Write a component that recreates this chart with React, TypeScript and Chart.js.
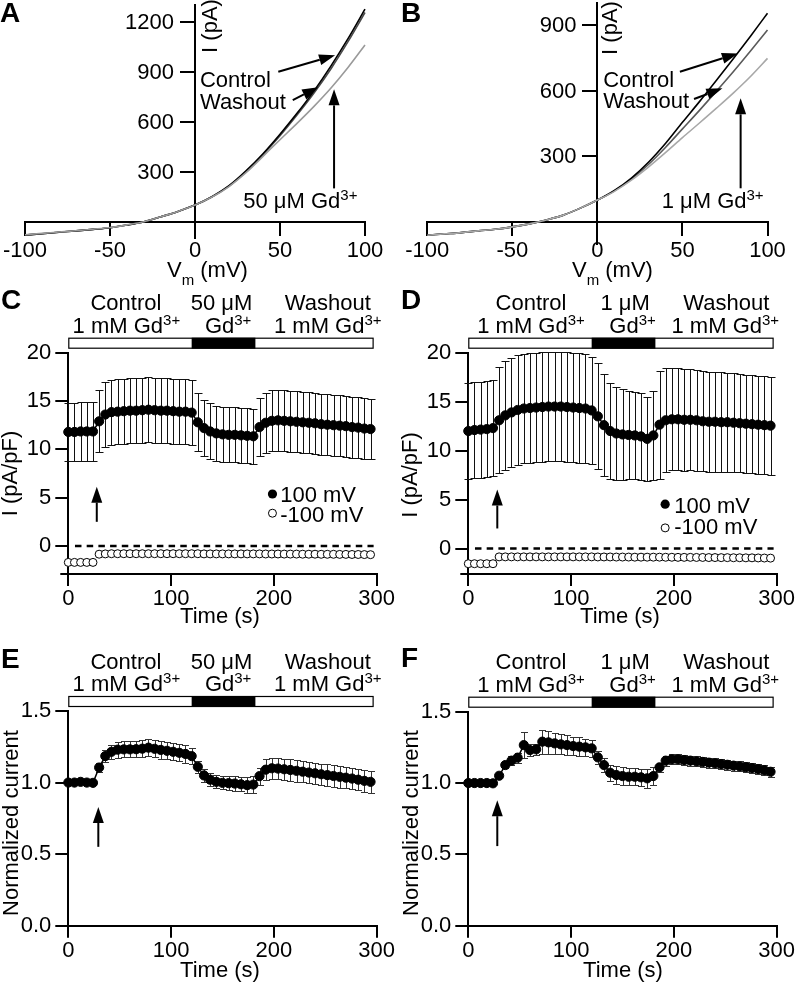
import React, { useEffect, useRef } from 'react';
import { Chart, registerables } from 'chart.js';

Chart.register(...registerables);

const FONT = '"Liberation Sans", Arial, Helvetica, sans-serif';
Chart.defaults.font.family = FONT;
Chart.defaults.color = '#000';

// ---------- Panels A / B : I-V relations ----------
const VM = [-100, -90, -80, -70, -60, -50, -40, -30, -20, -10, 0, 10, 20, 30, 40, 50, 60, 70, 80, 90, 100];
const A_CONTROL = [-80, -72, -63, -55, -46, -36, -20, 0, 30, 62, 100, 150, 216, 305, 408, 525, 650, 785, 935, 1098, 1275];
const A_WASHOUT = [-80, -72, -63, -55, -46, -36, -20, 0, 30, 62, 100, 150, 214, 301, 403, 516, 640, 772, 918, 1080, 1255];
const A_GD50 = [-78, -70, -62, -54, -45, -35, -19, 0, 30, 62, 100, 148, 211, 294, 392, 492, 590, 692, 802, 925, 1060];
const B_CONTROL = [-62, -56, -50, -42, -35, -24, -10, 8, 30, 62, 99, 143, 200, 272, 358, 455, 550, 648, 748, 850, 955];
const B_WASHOUT = [-62, -56, -50, -42, -35, -24, -10, 8, 30, 62, 99, 141, 195, 262, 340, 425, 510, 598, 688, 782, 878];
const B_GD1 = [-62, -56, -50, -42, -35, -24, -10, 8, 30, 62, 99, 139, 190, 250, 316, 385, 452, 520, 590, 665, 748];
const IV_X_TICKS = [-100, -50, 0, 50, 100];
const A_Y_TICKS = [300, 600, 900, 1200];
const B_Y_TICKS = [300, 600, 900];

// ---------- Panels C-F : time courses ----------
const T = [0, 6, 12, 18, 24, 30, 36, 42, 48, 54, 60, 66, 72, 78, 84, 90, 96, 102, 108, 114, 120, 126, 132, 138, 144, 150, 156, 162, 168, 174, 180, 186, 192, 198, 204, 210, 216, 222, 228, 234, 240, 246, 252, 258, 264, 270, 276, 282, 288, 294];

const C_100 = [11.8, 11.8, 11.85, 11.85, 11.85, 12.9, 13.6, 13.85, 13.9, 13.95, 14.0, 14.0, 14.05, 14.1, 14.05, 14.0, 14.0, 13.95, 13.9, 13.9, 13.8, 12.8, 12.2, 11.85, 11.65, 11.55, 11.5, 11.5, 11.45, 11.4, 11.35, 12.3, 12.75, 12.95, 13.0, 12.95, 12.9, 12.85, 12.8, 12.75, 12.7, 12.6, 12.55, 12.5, 12.45, 12.4, 12.3, 12.25, 12.15, 12.1];
const C_100_SEM = [3.0, 3.0, 3.05, 3.05, 3.05, 3.2, 3.35, 3.35, 3.35, 3.35, 3.35, 3.35, 3.35, 3.35, 3.35, 3.35, 3.35, 3.35, 3.35, 3.35, 3.35, 3.0, 2.9, 2.9, 2.85, 2.85, 2.85, 2.85, 2.85, 2.85, 2.85, 3.0, 3.1, 3.15, 3.15, 3.15, 3.15, 3.15, 3.15, 3.15, 3.15, 3.15, 3.15, 3.15, 3.15, 3.15, 3.15, 3.15, 3.15, 3.15];
const C_M100 = [-1.7, -1.7, -1.7, -1.7, -1.7, -0.85, -0.82, -0.8, -0.8, -0.8, -0.8, -0.8, -0.8, -0.8, -0.8, -0.8, -0.8, -0.8, -0.8, -0.8, -0.8, -0.8, -0.82, -0.82, -0.82, -0.82, -0.82, -0.82, -0.82, -0.82, -0.82, -0.82, -0.83, -0.83, -0.83, -0.84, -0.84, -0.84, -0.85, -0.85, -0.85, -0.86, -0.86, -0.86, -0.87, -0.87, -0.88, -0.88, -0.89, -0.9];

const D_100 = [12.0, 12.1, 12.15, 12.2, 12.3, 13.1, 13.6, 13.9, 14.15, 14.3, 14.35, 14.4, 14.45, 14.5, 14.5, 14.5, 14.45, 14.4, 14.35, 14.3, 14.1, 13.5, 12.6, 12.0, 11.75, 11.65, 11.6, 11.55, 11.45, 11.2, 11.55, 12.65, 13.1, 13.2, 13.2, 13.15, 13.15, 13.1, 13.0, 12.95, 12.95, 12.9, 12.9, 12.85, 12.8, 12.75, 12.7, 12.65, 12.6, 12.55];
const D_100_SEM = [4.9, 4.9, 4.9, 4.9, 4.9, 5.4, 5.6, 5.6, 5.6, 5.6, 5.6, 5.6, 5.6, 5.6, 5.6, 5.6, 5.6, 5.6, 5.6, 5.55, 5.5, 5.4, 5.2, 4.9, 4.7, 4.6, 4.5, 4.45, 4.4, 4.3, 4.5, 5.5, 5.3, 5.2, 5.2, 5.2, 5.15, 5.15, 5.1, 5.1, 5.1, 5.1, 5.05, 5.05, 5.0, 5.0, 5.0, 5.0, 5.0, 5.0];
const D_M100 = [-1.55, -1.55, -1.55, -1.55, -1.55, -0.85, -0.85, -0.85, -0.85, -0.85, -0.85, -0.85, -0.85, -0.85, -0.85, -0.85, -0.85, -0.85, -0.85, -0.85, -0.85, -0.86, -0.86, -0.86, -0.87, -0.87, -0.87, -0.88, -0.88, -0.88, -0.88, -0.88, -0.89, -0.89, -0.9, -0.9, -0.9, -0.91, -0.91, -0.92, -0.92, -0.93, -0.93, -0.94, -0.94, -0.95, -0.95, -0.96, -0.97, -0.98];

const E_NORM = [1.0, 1.0, 1.005, 1.0, 0.998, 1.105, 1.185, 1.215, 1.23, 1.232, 1.232, 1.233, 1.237, 1.244, 1.236, 1.228, 1.222, 1.215, 1.208, 1.2, 1.185, 1.11, 1.05, 1.02, 1.005, 0.998, 0.996, 0.993, 0.988, 0.982, 0.986, 1.045, 1.09, 1.1, 1.098, 1.093, 1.088, 1.082, 1.076, 1.07, 1.065, 1.058, 1.052, 1.046, 1.04, 1.034, 1.028, 1.02, 1.012, 1.005];
const E_SEM = [0, 0.005, 0.005, 0.005, 0.005, 0.03, 0.04, 0.05, 0.055, 0.055, 0.055, 0.055, 0.06, 0.06, 0.06, 0.06, 0.06, 0.06, 0.06, 0.06, 0.055, 0.04, 0.045, 0.045, 0.045, 0.045, 0.05, 0.05, 0.05, 0.055, 0.06, 0.06, 0.075, 0.075, 0.075, 0.075, 0.075, 0.075, 0.075, 0.075, 0.075, 0.075, 0.075, 0.075, 0.075, 0.075, 0.075, 0.075, 0.075, 0.075];

const F_NORM = [1.0, 1.0, 1.0, 1.0, 0.998, 1.051, 1.126, 1.157, 1.178, 1.266, 1.231, 1.236, 1.29, 1.285, 1.278, 1.271, 1.266, 1.259, 1.255, 1.25, 1.243, 1.18, 1.126, 1.072, 1.056, 1.049, 1.044, 1.044, 1.04, 1.033, 1.049, 1.11, 1.157, 1.166, 1.166, 1.161, 1.157, 1.152, 1.148, 1.143, 1.138, 1.133, 1.128, 1.122, 1.117, 1.111, 1.105, 1.098, 1.09, 1.079];
const F_SEM = [0, 0, 0, 0, 0, 0.01, 0.02, 0.03, 0.035, 0.09, 0.04, 0.04, 0.085, 0.08, 0.075, 0.07, 0.07, 0.065, 0.065, 0.06, 0.06, 0.045, 0.05, 0.055, 0.06, 0.06, 0.06, 0.06, 0.06, 0.065, 0.06, 0.03, 0.035, 0.035, 0.035, 0.035, 0.035, 0.035, 0.035, 0.035, 0.035, 0.035, 0.035, 0.035, 0.035, 0.035, 0.035, 0.035, 0.035, 0.035];

const ZERO_T = [6.5, 297];
const ZERO_I = [0, 0];
const TIME_TICKS = [0, 100, 200, 300];
const DENS_TICKS = [0, 5, 10, 15, 20];
const NORM_TICKS = [0, 0.5, 1, 1.5];

// treatment bar (s)
const BAR_START = 0;
const BAR_END = 297;
const GD_START = 120;
const GD_END = 182;

type Seg = { t: string; k?: 'sup' | 'sub' };
const GD_1MM: Seg[] = [{ t: '1 mM Gd' }, { t: '3+', k: 'sup' }];
const GD_ION: Seg[] = [{ t: 'Gd' }, { t: '3+', k: 'sup' }];
const LABELS_50 = {
  row1: [[[{ t: 'Control' }], 56], [[{ t: '50 \u03bcM' }], 149], [[{ t: 'Washout' }], 252.4]] as [Seg[], number][],
  row2: [[GD_1MM, 56.5], [GD_ION, 155.5], [GD_1MM, 252.4]] as [Seg[], number][],
};
const LABELS_1 = {
  row1: [[[{ t: 'Control' }], 61], [[{ t: '1 \u03bcM' }], 152.6], [[{ t: 'Washout' }], 251]] as [Seg[], number][],
  row2: [[GD_1MM, 61], [GD_ION, 159.8], [GD_1MM, 250]] as [Seg[], number][],
};

type Rect = { x: number; y: number; w: number; h: number };
const RA: Rect = { x: 0, y: 0, w: 399, h: 300 };
const RB: Rect = { x: 399, y: 0, w: 399, h: 300 };
const RC: Rect = { x: 0, y: 280, w: 399, h: 355 };
const RD: Rect = { x: 399, y: 280, w: 399, h: 355 };
const RE: Rect = { x: 0, y: 635, w: 399, h: 352 };
const RF: Rect = { x: 399, y: 635, w: 399, h: 352 };

// ---------- helpers ----------
const pts = (xs: number[], ys: number[]) => xs.map((x, i) => ({ x, y: ys[i] }));

function rich(ctx: CanvasRenderingContext2D, segs: Seg[], x: number, y: number, align: 'left' | 'center', size = 22) {
  const sm = Math.round(size * 0.68);
  const ws = segs.map((s) => {
    ctx.font = `${s.k ? sm : size}px ${FONT}`;
    return ctx.measureText(s.t).width;
  });
  const total = ws.reduce((a, b) => a + b, 0);
  let cx = align === 'center' ? x - total / 2 : x;
  ctx.textAlign = 'left';
  ctx.textBaseline = 'alphabetic';
  segs.forEach((s, i) => {
    ctx.font = `${s.k ? sm : size}px ${FONT}`;
    const dy = s.k === 'sup' ? -size * 0.36 : s.k === 'sub' ? size * 0.36 : 0;
    ctx.fillText(s.t, cx, y + dy);
    cx += ws[i];
  });
}

function vtext(ctx: CanvasRenderingContext2D, text: string, x: number, y: number, size = 22) {
  ctx.save();
  ctx.translate(x, y);
  ctx.rotate(-Math.PI / 2);
  ctx.font = `${size}px ${FONT}`;
  ctx.textAlign = 'center';
  ctx.textBaseline = 'alphabetic';
  ctx.fillText(text, 0, 0);
  ctx.restore();
}

function letter(ctx: CanvasRenderingContext2D, s: string, x: number, y: number) {
  ctx.font = `bold 28px ${FONT}`;
  ctx.textAlign = 'left';
  ctx.textBaseline = 'alphabetic';
  ctx.fillText(s, x, y);
}

function arrow(ctx: CanvasRenderingContext2D, x1: number, y1: number, x2: number, y2: number, head = 16, half = 5.5, lw = 2) {
  const a = Math.atan2(y2 - y1, x2 - x1);
  const bx = x2 - head * Math.cos(a);
  const by = y2 - head * Math.sin(a);
  ctx.lineWidth = lw;
  ctx.beginPath();
  ctx.moveTo(x1, y1);
  ctx.lineTo(bx, by);
  ctx.stroke();
  ctx.beginPath();
  ctx.moveTo(x2, y2);
  ctx.lineTo(bx + half * Math.sin(a), by - half * Math.cos(a));
  ctx.lineTo(bx - half * Math.sin(a), by + half * Math.cos(a));
  ctx.closePath();
  ctx.fill();
}

function treatment(ctx: CanvasRenderingContext2D, sx: any, ca: any, labels: typeof LABELS_50) {
  const top = ca.top - 15;
  const h = 11;
  const x0 = sx.getPixelForValue(BAR_START);
  const x1 = sx.getPixelForValue(BAR_END);
  const g0 = sx.getPixelForValue(GD_START);
  const g1 = sx.getPixelForValue(GD_END);
  ctx.fillStyle = '#fff';
  ctx.fillRect(x0, top, x1 - x0, h);
  ctx.fillStyle = '#000';
  ctx.fillRect(g0, top, g1 - g0, h);
  ctx.strokeStyle = '#000';
  ctx.lineWidth = 1.2;
  ctx.strokeRect(x0 + 0.5, top + 0.5, x1 - x0 - 1, h - 1);
  labels.row1.forEach(([segs, t]) => rich(ctx, segs, sx.getPixelForValue(t), top - 27.5, 'center'));
  labels.row2.forEach(([segs, t]) => rich(ctx, segs, sx.getPixelForValue(t), top - 4.7, 'center'));
}

// short extension of the x axis to the left of the y axis (as in the original figure)
function axisStub(ctx: CanvasRenderingContext2D, ca: any) {
  ctx.strokeStyle = '#000';
  ctx.lineWidth = 2;
  ctx.beginPath();
  ctx.moveTo(ca.left - 8, ca.bottom);
  ctx.lineTo(ca.left, ca.bottom);
  ctx.stroke();
}

function legendItems(ctx: CanvasRenderingContext2D, X: (v: number) => number, Y: (v: number) => number, cx: number, tx: number, vals: number[]) {
  ctx.fillStyle = '#000';
  ctx.beginPath();
  ctx.arc(X(cx), Y(vals[0]), 4.6, 0, Math.PI * 2);
  ctx.fill();
  ctx.fillStyle = '#fff';
  ctx.strokeStyle = '#000';
  ctx.lineWidth = 1;
  ctx.beginPath();
  ctx.arc(X(cx), Y(vals[2]), 4, 0, Math.PI * 2);
  ctx.fill();
  ctx.stroke();
  ctx.fillStyle = '#000';
  rich(ctx, [{ t: '100 mV' }], X(tx), Y(vals[1]), 'left');
  rich(ctx, [{ t: '-100 mV' }], X(tx), Y(vals[3]), 'left');
}

// y tick labels of the centred I-V axis
function ivYLabels(ctx: CanvasRenderingContext2D, sx: any, sy: any) {
  ctx.fillStyle = '#000';
  ctx.font = `22px ${FONT}`;
  ctx.textAlign = 'right';
  ctx.textBaseline = 'middle';
  const x0 = sx.getPixelForValue(0);
  for (const tk of sy.ticks) {
    ctx.fillText(String(tk.value), x0 - 21, sy.getPixelForValue(tk.value) + 1);
  }
}

type DrawData = (ctx: CanvasRenderingContext2D, X: (v: number) => number, Y: (v: number) => number, sx: any, ca: any, sy: any) => void;
type DrawPage = (ctx: CanvasRenderingContext2D) => void;

function annot(rect: Rect, drawData: DrawData, drawPage: DrawPage) {
  return {
    id: 'annot',
    afterDraw(chart: any) {
      const ctx = chart.ctx as CanvasRenderingContext2D;
      const sx = chart.scales.x;
      const sy = chart.scales.y;
      const X = (v: number) => sx.getPixelForValue(v);
      const Y = (v: number) => sy.getPixelForValue(v);
      ctx.save();
      ctx.fillStyle = '#000';
      ctx.strokeStyle = '#000';
      drawData(ctx, X, Y, sx, chart.chartArea, sy);
      ctx.restore();
      ctx.save();
      ctx.translate(-rect.x, -rect.y);
      ctx.fillStyle = '#000';
      drawPage(ctx);
      ctx.restore();
    },
  };
}

function errBars(xs: number[], ys: number[], errs: number[], cap = 8, color = '#222') {
  return {
    id: 'errbars',
    beforeDatasetsDraw(chart: any) {
      const ctx = chart.ctx as CanvasRenderingContext2D;
      const sx = chart.scales.x;
      const sy = chart.scales.y;
      ctx.save();
      ctx.strokeStyle = color;
      ctx.lineWidth = 1;
      for (let i = 0; i < xs.length; i++) {
        if (!errs[i]) continue;
        const px = Math.round(sx.getPixelForValue(xs[i])) + 0.5;
        const p1 = Math.round(sy.getPixelForValue(ys[i] + errs[i])) + 0.5;
        const p2 = Math.round(sy.getPixelForValue(ys[i] - errs[i])) + 0.5;
        ctx.beginPath();
        ctx.moveTo(px, p1);
        ctx.lineTo(px, p2);
        ctx.moveTo(px - cap / 2, p1);
        ctx.lineTo(px + cap / 2, p1);
        ctx.moveTo(px - cap / 2, p2);
        ctx.lineTo(px + cap / 2, p2);
        ctx.stroke();
      }
      ctx.restore();
    },
  };
}

const setTicks = (vals: number[]) => (s: any) => {
  s.ticks = vals.map((v) => ({ value: v }));
};
const zeroPad = (s: any) => {
  s.paddingLeft = 0; s.paddingRight = 0; s.paddingTop = 0; s.paddingBottom = 0;
};
const tickFont = { family: FONT, size: 22, lineHeight: 1 };
const gridStyle = { display: true, drawOnChartArea: false, drawTicks: true, color: '#000', lineWidth: 2 };
const borderStyle = { display: true, color: '#000', width: 2 };
const base = {
  animation: false,
  responsive: false,
  maintainAspectRatio: false,
  devicePixelRatio: 1,
  events: [],
  plugins: { legend: { display: false }, tooltip: { enabled: false } },
};

function ivConfig(rect: Rect, pad: any, yMin: number, yMax: number, yTicks: number[], series: number[][], colors: string[], drawData: DrawData, drawPage: DrawPage) {
  return {
    type: 'line',
    data: {
      datasets: series.map((s, i) => ({
        data: pts(VM, s),
        borderColor: colors[i],
        borderWidth: 1.6,
        pointRadius: 0,
        cubicInterpolationMode: 'monotone',
        fill: false,
        clip: false,
      })),
    },
    options: {
      ...base,
      layout: { padding: pad },
      scales: {
        x: {
          type: 'linear', position: { y: 0 }, min: -100, max: 100,
          afterBuildTicks: setTicks(IV_X_TICKS),
          afterFit: zeroPad,
          grid: { ...gridStyle, tickLength: 13 },
          border: borderStyle,
          ticks: { color: '#000', font: tickFont, padding: 5, maxRotation: 0, autoSkip: false, callback: (v: any) => String(v) },
        },
        y: {
          type: 'linear', position: { x: 0 }, min: yMin, max: yMax,
          afterBuildTicks: setTicks(yTicks),
          afterFit: zeroPad,
          grid: { ...gridStyle, tickLength: 14 },
          border: borderStyle,
          ticks: { display: false },
        },
      },
    },
    plugins: [annot(rect, (ctx, X, Y, sx, ca, sy) => { ivYLabels(ctx, sx, sy); drawData(ctx, X, Y, sx, ca, sy); }, drawPage)],
  };
}

function timeConfig(o: {
  rect: Rect; padTop: number; padRight: number; yWidth: number; xHeight: number;
  yMin: number; yMax: number; yTicks: number[]; yFmt: (v: number) => string;
  datasets: any[]; plugins: any[];
}) {
  return {
    type: 'line',
    data: { datasets: o.datasets },
    options: {
      ...base,
      layout: { padding: { top: o.padTop, right: o.padRight, left: 0, bottom: 0 } },
      scales: {
        x: {
          type: 'linear', position: 'bottom', min: 0, max: 300,
          afterBuildTicks: setTicks(TIME_TICKS),
          afterFit: (s: any) => { s.height = o.xHeight; s.paddingLeft = 0; s.paddingRight = 0; },
          grid: { ...gridStyle, tickLength: 12 },
          border: borderStyle,
          ticks: { color: '#000', font: tickFont, padding: 2, maxRotation: 0, autoSkip: false, callback: (v: any) => String(v) },
        },
        y: {
          type: 'linear', position: 'left', min: o.yMin, max: o.yMax,
          afterBuildTicks: setTicks(o.yTicks),
          afterFit: (s: any) => { s.width = o.yWidth; s.paddingTop = 0; s.paddingBottom = 0; },
          grid: { ...gridStyle, tickLength: 13 },
          border: borderStyle,
          ticks: { color: '#000', font: tickFont, padding: 4, autoSkip: false, callback: (v: any) => o.yFmt(Number(v)) },
        },
      },
    },
    plugins: o.plugins,
  };
}

const filledSet = (ys: number[]) => ({
  data: pts(T, ys), borderColor: '#000', borderWidth: 1.5, pointRadius: 4.6,
  pointBackgroundColor: '#000', pointBorderColor: '#000', pointBorderWidth: 1, clip: false, tension: 0,
});
const openSet = (ys: number[]) => ({
  data: pts(T, ys), borderColor: '#000', borderWidth: 0, showLine: false, pointRadius: 4,
  pointBackgroundColor: '#fff', pointBorderColor: '#000', pointBorderWidth: 1, clip: false,
});
const zeroSet = () => ({
  data: pts(ZERO_T, ZERO_I), borderColor: '#000', borderWidth: 2.5, borderDash: [6.5, 5.2], pointRadius: 0, clip: false,
});

// ---------- configs ----------
const cfgA = () => ivConfig(RA, { left: 25, top: 5, right: 34, bottom: 61.6 }, -100, 1300, A_Y_TICKS,
  [A_GD50, A_CONTROL, A_WASHOUT], ['#9a9a9a', '#000', '#4a4a4a'],
  (ctx, X, Y) => {
    rich(ctx, [{ t: 'Control' }], X(2.9), Y(808), 'left');
    rich(ctx, [{ t: 'Washout' }], X(2.9), Y(679), 'left');
    arrow(ctx, X(49), Y(900), X(82.4), Y(998));
    arrow(ctx, X(57.5), Y(730), X(72.5), Y(806));
    arrow(ctx, X(81.8), Y(200), X(81.8), Y(794));
    rich(ctx, [{ t: '50 \u03bcM Gd' }, { t: '3+', k: 'sup' }], X(28.4), Y(82), 'left');
  },
  (ctx) => {
    letter(ctx, 'A', 0, 22);
    vtext(ctx, 'I (pA)', 217, 26);
    rich(ctx, [{ t: 'V' }, { t: 'm', k: 'sub' }, { t: ' (mV)' }], 167, 277, 'left');
  });

const cfgB = () => ivConfig(RB, { left: 28.3, top: 3.4, right: 30.5, bottom: 56.5 }, -100, 1000, B_Y_TICKS,
  [B_GD1, B_CONTROL, B_WASHOUT], ['#a8a8a8', '#000', '#5a5a5a'],
  (ctx, X, Y) => {
    rich(ctx, [{ t: 'Control' }], X(3.4), Y(618), 'left');
    rich(ctx, [{ t: 'Washout' }], X(3.4), Y(521), 'left');
    arrow(ctx, X(48.5), Y(687), X(82.6), Y(771));
    arrow(ctx, X(56.8), Y(562), X(73.5), Y(611));
    arrow(ctx, X(84.2), Y(153), X(84.2), Y(565));
    rich(ctx, [{ t: '1 \u03bcM Gd' }, { t: '3+', k: 'sup' }], X(37.8), Y(61), 'left');
  },
  (ctx) => {
    letter(ctx, 'B', 401, 22);
    vtext(ctx, 'I (pA)', 617, 28);
    rich(ctx, [{ t: 'V' }, { t: 'm', k: 'sub' }, { t: ' (mV)' }], 572, 277, 'left');
  });

const cfgC = () => timeConfig({
  rect: RC, padTop: 72.7, padRight: 22.3, yWidth: 68.3, xHeight: 61,
  yMin: -2.9, yMax: 20, yTicks: DENS_TICKS, yFmt: (v) => String(v),
  datasets: [filledSet(C_100), openSet(C_M100), zeroSet()],
  plugins: [
    errBars(T, C_100, C_100_SEM, 8, '#111'),
    annot(RC, (ctx, X, Y, sx, ca) => {
      axisStub(ctx, ca);
      treatment(ctx, sx, ca, LABELS_50);
      ctx.fillStyle = '#000';
      ctx.strokeStyle = '#000';
      arrow(ctx, X(27.7), Y(2.5), X(27.7), Y(6.14));
      legendItems(ctx, X, Y, 198.6, 206.1, [5.38, 4.59, 3.39, 2.52]);
    }, (ctx) => {
      letter(ctx, 'C', 1, 309);
      vtext(ctx, 'I (pA/pF)', 17, 473.5);
      rich(ctx, [{ t: 'Time (s)' }], 220, 623, 'center');
    }),
  ],
});

const cfgD = () => timeConfig({
  rect: RD, padTop: 72.7, padRight: 21.3, yWidth: 69.3, xHeight: 61,
  yMin: -2.6, yMax: 20, yTicks: DENS_TICKS, yFmt: (v) => String(v),
  datasets: [filledSet(D_100), openSet(D_M100), zeroSet()],
  plugins: [
    errBars(T, D_100, D_100_SEM, 8, '#111'),
    annot(RD, (ctx, X, Y, sx, ca) => {
      axisStub(ctx, ca);
      treatment(ctx, sx, ca, LABELS_1);
      ctx.fillStyle = '#000';
      ctx.strokeStyle = '#000';
      arrow(ctx, X(28.2), Y(2.05), X(28.2), Y(6.03));
      legendItems(ctx, X, Y, 191.5, 200.3, [4.53, 3.58, 2.11, 1.53]);
    }, (ctx) => {
      letter(ctx, 'D', 401, 309);
      vtext(ctx, 'I (pA/pF)', 417, 475);
      rich(ctx, [{ t: 'Time (s)' }], 620, 623, 'center');
    }),
  ],
});

const cfgE = () => timeConfig({
  rect: RE, padTop: 76, padRight: 22.3, yWidth: 68.3, xHeight: 61.3,
  yMin: 0, yMax: 1.5, yTicks: NORM_TICKS, yFmt: (v) => v.toFixed(1),
  datasets: [filledSet(E_NORM)],
  plugins: [
    errBars(T, E_NORM, E_SEM, 7, '#333'),
    annot(RE, (ctx, X, Y, sx, ca) => {
      treatment(ctx, sx, ca, LABELS_50);
      ctx.fillStyle = '#000';
      ctx.strokeStyle = '#000';
      arrow(ctx, X(29.2), Y(0.551), X(29.2), Y(0.83));
    }, (ctx) => {
      letter(ctx, 'E', 1, 668);
      vtext(ctx, 'Normalized current', 17.5, 823);
      rich(ctx, [{ t: 'Time (s)' }], 220, 977, 'center');
    }),
  ],
});

const cfgF = () => timeConfig({
  rect: RF, padTop: 76.7, padRight: 21.3, yWidth: 69.3, xHeight: 61.3,
  yMin: 0, yMax: 1.5, yTicks: NORM_TICKS, yFmt: (v) => v.toFixed(1),
  datasets: [filledSet(F_NORM)],
  plugins: [
    errBars(T, F_NORM, F_SEM, 7, '#333'),
    annot(RF, (ctx, X, Y, sx, ca) => {
      treatment(ctx, sx, ca, LABELS_1);
      ctx.fillStyle = '#000';
      ctx.strokeStyle = '#000';
      arrow(ctx, X(28.2), Y(0.558), X(28.2), Y(0.88));
    }, (ctx) => {
      letter(ctx, 'F', 401, 667);
      vtext(ctx, 'Normalized current', 417.5, 823);
      rich(ctx, [{ t: 'Time (s)' }], 623, 977, 'center');
    }),
  ],
});

function ChartPanel({ rect, make }: { rect: Rect; make: () => any }) {
  const ref = useRef<HTMLCanvasElement | null>(null);
  useEffect(() => {
    if (!ref.current) return;
    const chart = new Chart(ref.current, make());
    return () => chart.destroy();
  }, []);
  return (
    <canvas
      ref={ref}
      width={rect.w}
      height={rect.h}
      style={{ position: 'absolute', left: rect.x, top: rect.y, width: rect.w, height: rect.h }}
    />
  );
}

export default function App() {
  return (
    <div style={{ position: 'absolute', left: 0, top: 0, width: 798, height: 987, background: '#fff', overflow: 'hidden' }}>
      <ChartPanel rect={RA} make={cfgA} />
      <ChartPanel rect={RB} make={cfgB} />
      <ChartPanel rect={RC} make={cfgC} />
      <ChartPanel rect={RD} make={cfgD} />
      <ChartPanel rect={RE} make={cfgE} />
      <ChartPanel rect={RF} make={cfgF} />
    </div>
  );
}
